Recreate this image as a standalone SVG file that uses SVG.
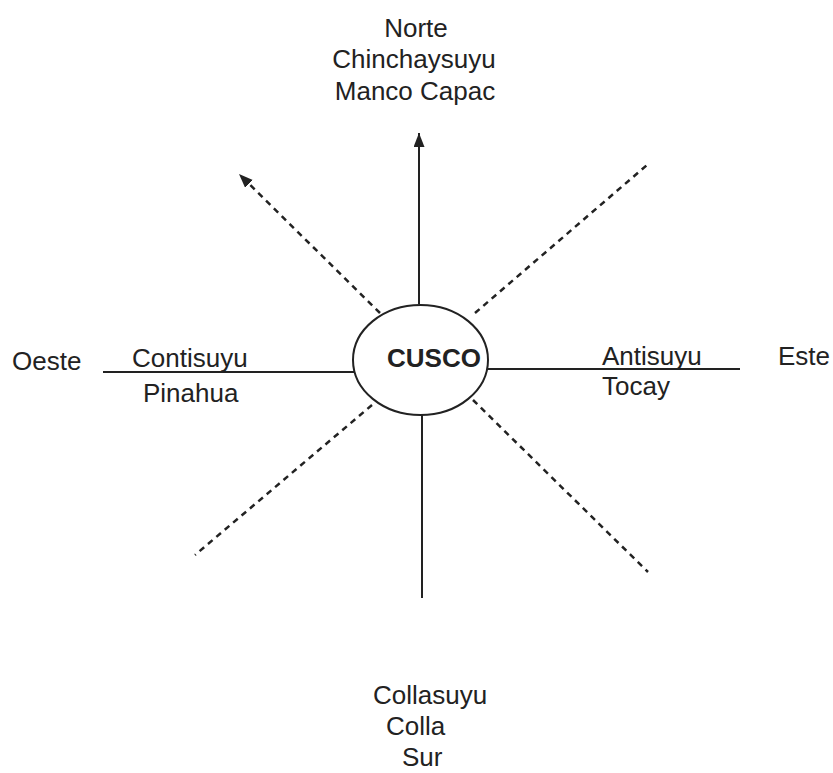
<svg xmlns="http://www.w3.org/2000/svg" width="833" height="773" viewBox="0 0 833 773">
<defs>
<style>
.t{font-family:"Liberation Sans",Arial,sans-serif;font-size:26px;fill:#222}
.b{font-weight:bold}
.ln{stroke:#222;stroke-width:2;fill:none}
.dl{stroke:#222;stroke-width:2.5;fill:none;stroke-dasharray:6 5}
</style>
<marker id="ah" markerUnits="userSpaceOnUse" markerWidth="16" markerHeight="12" refX="14" refY="5.5" orient="auto">
<path d="M0,0 L14,5.5 L0,11 z" fill="#222"/>
</marker>
</defs>
<rect width="833" height="773" fill="#fff"/>
<g id="connectors">
<line class="ln" x1="419" y1="304" x2="419" y2="133" marker-end="url(#ah)"/>
<line class="ln" x1="103" y1="372" x2="354" y2="372"/>
<line class="ln" x1="488" y1="369" x2="740" y2="369"/>
<line class="ln" x1="422" y1="415" x2="422" y2="598"/>
<line class="dl" x1="380" y1="313" x2="239" y2="174" marker-end="url(#ah)"/>
<line class="dl" x1="475" y1="313" x2="647" y2="165"/>
<line class="dl" x1="372" y1="405" x2="195" y2="555"/>
<line class="dl" x1="473" y1="400" x2="648" y2="572"/>
</g>
<g id="cusco">
<ellipse cx="420.5" cy="360" rx="67.5" ry="55" class="ln" fill="#fff"/>
<text class="t b" x="387" y="367">CUSCO</text>
</g>
<g id="norte">
<text class="t" x="416" y="37" text-anchor="middle">Norte</text>
<text class="t" x="414" y="68" text-anchor="middle">Chinchaysuyu</text>
<text class="t" x="415" y="100" text-anchor="middle">Manco Capac</text>
</g>
<g id="oeste">
<text class="t" x="12" y="370">Oeste</text>
<text class="t" x="132" y="367">Contisuyu</text>
<text class="t" x="143" y="402">Pinahua</text>
</g>
<g id="este">
<text class="t" x="602" y="365">Antisuyu</text>
<text class="t" x="602" y="395">Tocay</text>
<text class="t" x="778" y="365">Este</text>
</g>
<g id="sur">
<text class="t" x="373" y="704">Collasuyu</text>
<text class="t" x="386" y="735">Colla</text>
<text class="t" x="402" y="766">Sur</text>
</g>
</svg>
